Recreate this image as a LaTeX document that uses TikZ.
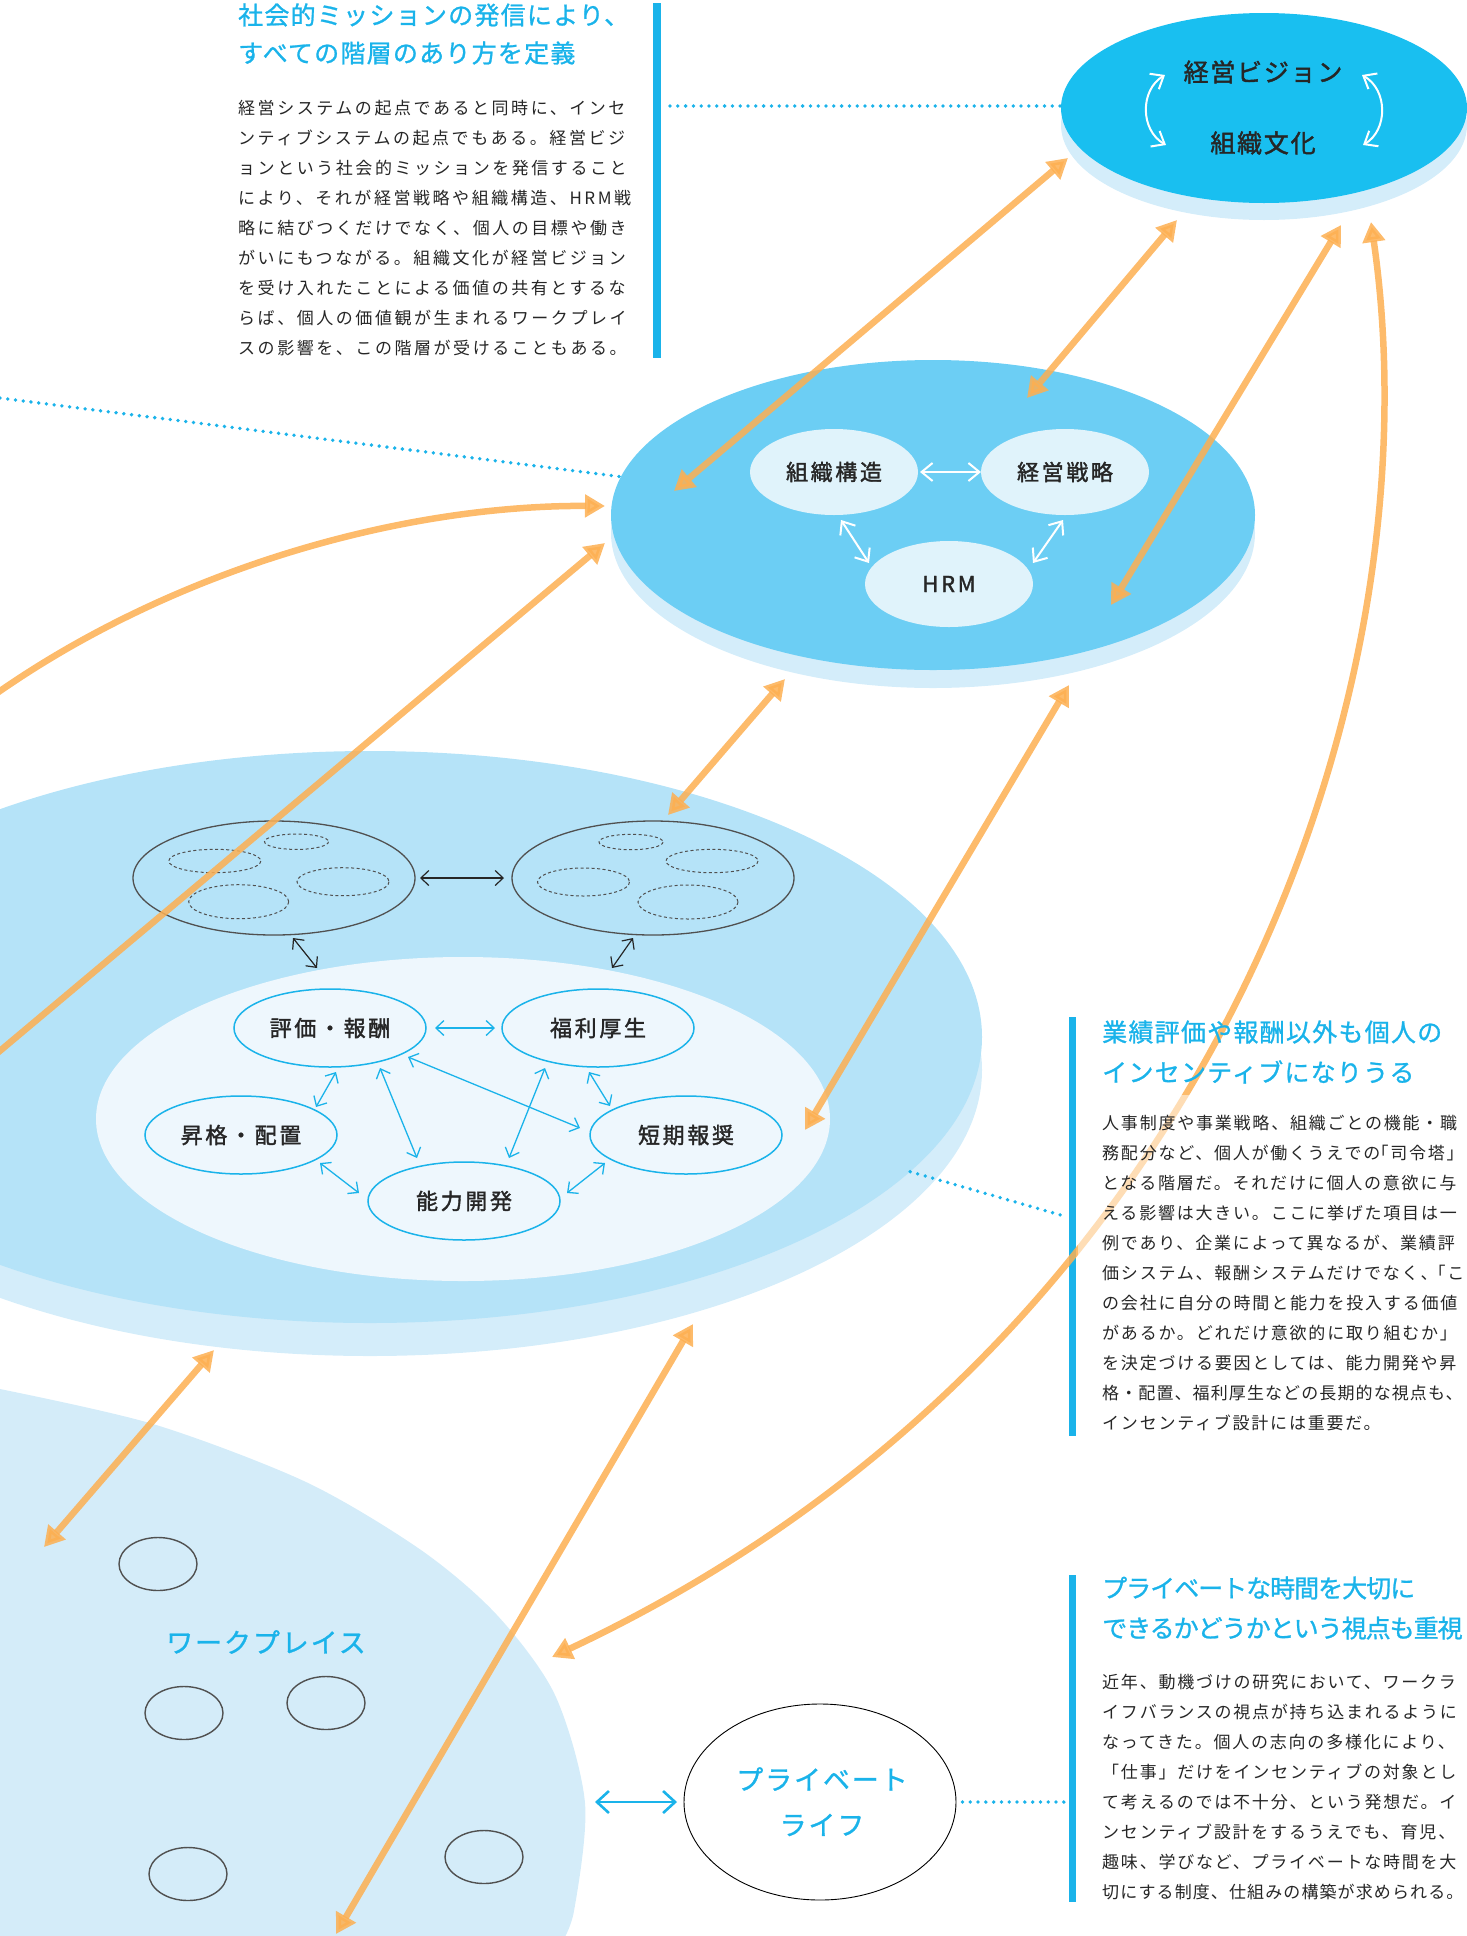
\documentclass[tikz,border=0pt]{standalone}
\usepackage{fontspec}
\setmainfont{Noto Sans CJK JP}
\newfontfamily\medfont[FakeBold=1.0]{Noto Sans CJK JP}
\newfontfamily\lblfamily[FakeBold=1.6]{Noto Sans CJK JP}
\usetikzlibrary{arrows.meta,shapes.geometric}
\definecolor{visCyan}{HTML}{19BFF0}
\definecolor{midBlue}{HTML}{6CCEF4}
\definecolor{lvlBlue}{HTML}{B5E3F8}
\definecolor{innerPale}{HTML}{EEF7FD}
\definecolor{shadowBlue}{HTML}{D4EDFA}
\definecolor{wpBlue}{HTML}{D4ECF9}
\definecolor{nodePale}{HTML}{E0F3FB}
\definecolor{lineCyan}{HTML}{1AB3EA}
\definecolor{orng}{HTML}{FDAF51}
\definecolor{txt}{HTML}{262626}
\definecolor{grayline}{HTML}{505050}
\newcommand\lblfont{\lblfamily\fontsize{22pt}{26pt}\selectfont\addfontfeatures{LetterSpace=12}}
\newcommand\visfont{\lblfamily\fontsize{25pt}{28pt}\selectfont\addfontfeatures{LetterSpace=7}}
\newcommand\wpfont{\medfont\fontsize{27pt}{30pt}\selectfont\addfontfeatures{LetterSpace=7}}
\newcommand\titlefont{\medfont\fontsize{25pt}{28pt}\selectfont\addfontfeatures{LetterSpace=5}}
\newcommand\titlefontB{\medfont\fontsize{25pt}{28pt}\selectfont\addfontfeatures{LetterSpace=-4}}
\newcommand\bodyfontA{\fontsize{17pt}{20pt}\selectfont\addfontfeatures{LetterSpace=15}}
\newcommand\bodyfontB{\fontsize{17pt}{20pt}\selectfont\addfontfeatures{LetterSpace=10.5}}
\newcommand\tightline{\addfontfeatures{LetterSpace=6.5}}
\tikzset{
  disc/.style={ellipse, inner sep=0pt},
  orarrow/.style={draw=orng, opacity=0.85, line width=6.5pt,
    {Triangle[length=20pt,width=22pt]}-{Triangle[length=20pt,width=22pt]}},
  orarrowone/.style={draw=orng, opacity=0.85, line width=6.5pt,
    -{Triangle[length=20pt,width=22pt]}},
  cyarrow/.style={draw=lineCyan, line width=1.3pt,
    {Straight Barb[length=8pt,width=15pt]}-{Straight Barb[length=8pt,width=15pt]}},
  blkarrow/.style={draw=txt, line width=1.2pt,
    {Straight Barb[length=8pt,width=15pt]}-{Straight Barb[length=8pt,width=15pt]}},
  wharrow/.style={draw=white, line width=2pt,
    {Straight Barb[length=11pt,width=18pt]}-{Straight Barb[length=11pt,width=18pt]}},
  dotline/.style={draw=lineCyan, line width=3.8pt, line cap=round, dash pattern=on 0pt off 7.8pt},
  dashell/.style={draw=grayline, line width=1pt, dash pattern=on 3pt off 2.5pt},
  lvlthreenode/.style={disc, draw=lineCyan, line width=1.5pt, minimum width=192, minimum height=78, font=\lblfont, text=txt},
  midnode/.style={disc, fill=nodePale, minimum width=168, minimum height=86, font=\lblfont, text=txt},
  wpcircle/.style={disc, draw=grayline, line width=1.4pt, minimum width=78, minimum height=53},
  bodyA/.style={anchor=west, inner sep=0pt, text=txt, font=\bodyfontA},
  bodyB/.style={anchor=west, inner sep=0pt, text=txt, font=\bodyfontB},
  ttl/.style={anchor=west, inner sep=0pt, text=lineCyan, font=\titlefont},
  ttlB/.style={anchor=west, inner sep=0pt, text=lineCyan, font=\titlefontB},
  bar/.style={fill=lineCyan, inner sep=0pt, anchor=north west}
}
\begin{document}
\begin{tikzpicture}[x=1pt,y=-1pt]
\useasboundingbox (0,0) rectangle (1467,1936);
\clip (0,0) rectangle (1467,1936);

% workplace area
\fill[wpBlue] plot[smooth] coordinates {(-5,1388) (153,1424) (306,1482) (421,1550) (497,1615) (555,1695) (585,1803) (574,1911) (560,1945)} -- (-5,1945) -- cycle;

% level 3 disc
\node[disc, fill=shadowBlue, minimum width=1224, minimum height=572] (lvlthreeshadow) at (370,1070) {};
\node[disc, fill=lvlBlue, minimum width=1224, minimum height=572] (lvlthree) at (370,1037) {};
\node[disc, fill=innerPale, minimum width=734, minimum height=324] (lvlthreein) at (463,1119) {};

% level 2 disc
\node[disc, fill=shadowBlue, minimum width=644, minimum height=310] (midshadow) at (933,533) {};
\node[disc, fill=midBlue, minimum width=644, minimum height=310] (mid) at (933,515) {};

% top disc
\node[disc, fill=shadowBlue, minimum width=406, minimum height=190] (topshadow) at (1264,125) {};
\node[disc, fill=visCyan, minimum width=406, minimum height=190] (top) at (1264,108) {};

% top contents
\node[font=\visfont, text=txt] (vision) at (1263,72) {経営ビジョン};
\node[font=\visfont, text=txt] (culture) at (1263,143) {組織文化};
\coordinate (wla) at (1165,75); \coordinate (wlb) at (1166,145);
\coordinate (wra) at (1362,75); \coordinate (wrb) at (1363,145);
\draw[wharrow] (wla) .. controls (1140,90) and (1140,130) .. (wlb);
\draw[wharrow] (wra) .. controls (1388,90) and (1388,130) .. (wrb);

% middle contents
\node[midnode] (soshiki) at (834,472) {組織構造};
\node[midnode] (senryaku) at (1065,472) {経営戦略};
\node[midnode] (hrm) at (949,584) {HRM};
\coordinate (m1a) at (920,472); \coordinate (m1b) at (981,472);
\coordinate (m2a) at (841,520); \coordinate (m2b) at (869,563);
\coordinate (m3a) at (1063,520); \coordinate (m3b) at (1033,563);
\draw[wharrow] (m1a) -- (m1b);
\draw[wharrow] (m2a) -- (m2b);
\draw[wharrow] (m3a) -- (m3b);

% level 3 contents: groups
\node[disc, draw=grayline, line width=1.3pt, minimum width=282, minimum height=114] (grpl) at (274,878) {};
\node[disc, draw=grayline, line width=1.3pt, minimum width=282, minimum height=114] (grpr) at (653,878) {};
\draw[dashell] (296.5,841.7) ellipse [x radius=32, y radius=7.7];
\draw[dashell] (214.8,861) ellipse [x radius=46, y radius=11.7];
\draw[dashell] (343,881.7) ellipse [x radius=46, y radius=14];
\draw[dashell] (238.7,901.7) ellipse [x radius=50, y radius=17];
\draw[dashell] (631,842) ellipse [x radius=32, y radius=7.7];
\draw[dashell] (712,861) ellipse [x radius=46, y radius=11.7];
\draw[dashell] (583.5,882) ellipse [x radius=46, y radius=14];
\draw[dashell] (688,902) ellipse [x radius=50, y radius=17];
\coordinate (g1a) at (420,878); \coordinate (g1b) at (504,878);
\coordinate (g2a) at (293,938); \coordinate (g2b) at (317,968);
\coordinate (g3a) at (633,938); \coordinate (g3b) at (612,968);
\draw[blkarrow] (g1a) -- (g1b);
\draw[blkarrow] (g2a) -- (g2b);
\draw[blkarrow] (g3a) -- (g3b);

% level 3 nodes
\node[lvlthreenode] (hyoka) at (330,1028) {評価・報酬};
\node[lvlthreenode] (fukuri) at (598,1028) {福利厚生};
\node[lvlthreenode] (shokaku) at (241,1135) {昇格・配置};
\node[lvlthreenode] (tanki) at (686,1135) {短期報奨};
\node[lvlthreenode] (noryoku) at (464,1201) {能力開発};
\coordinate (c1a) at (435,1028); \coordinate (c1b) at (495,1028);
\coordinate (c2a) at (336,1072); \coordinate (c2b) at (316,1107);
\coordinate (c3a) at (380,1068); \coordinate (c3b) at (417,1158);
\coordinate (c4a) at (408,1057); \coordinate (c4b) at (580,1128);
\coordinate (c5a) at (545,1068); \coordinate (c5b) at (509,1158);
\coordinate (c6a) at (589,1072); \coordinate (c6b) at (610,1106);
\coordinate (c7a) at (320,1163); \coordinate (c7b) at (359,1193);
\coordinate (c8a) at (605,1163); \coordinate (c8b) at (567,1193);
\draw[cyarrow] (c1a) -- (c1b);
\draw[cyarrow] (c2a) -- (c2b);
\draw[cyarrow] (c3a) -- (c3b);
\draw[cyarrow] (c4a) -- (c4b);
\draw[cyarrow] (c5a) -- (c5b);
\draw[cyarrow] (c6a) -- (c6b);
\draw[cyarrow] (c7a) -- (c7b);
\draw[cyarrow] (c8a) -- (c8b);

% workplace
\node[wpcircle] (wpa) at (158,1564) {};
\node[wpcircle] (wpb) at (184,1713) {};
\node[wpcircle] (wpc) at (326,1703) {};
\node[wpcircle] (wpd) at (188,1874) {};
\node[wpcircle] (wpe) at (484,1857) {};
\node[font=\wpfont, text=lineCyan] (wplabel) at (266,1642) {ワークプレイス};

% private life
\node[disc, draw=black, line width=0.9pt, fill=white, minimum width=272, minimum height=196] (private) at (820,1802) {};
\node[font=\wpfont, text=lineCyan] (privA) at (822,1779) {プライベート};
\node[font=\wpfont, text=lineCyan] (privB) at (822,1825) {ライフ};
\coordinate (pa) at (595,1802); \coordinate (pb) at (677,1802);
\draw[draw=lineCyan, line width=2.6pt, {Straight Barb[length=12pt,width=22pt]}-{Straight Barb[length=12pt,width=22pt]}] (pa) -- (pb);

% bars
\node[bar, minimum width=8, minimum height=355] (barA) at (653,3) {};
\node[bar, minimum width=7, minimum height=419] (barB) at (1069,1017) {};
\node[bar, minimum width=7, minimum height=327] (barC) at (1069,1575) {};

% dotted leaders
\coordinate (dA) at (670,106);
\draw[dotline] (dA) -- (top.west |- dA);
\coordinate (dB) at (0,398);
\draw[dotline] (dB) -- (mid.173);
\coordinate (dC) at (1064,1216);
\draw[dotline] (lvlthree.-14) -- (dC);
\coordinate (dD) at (1064,1802);
\draw[dotline] (private.east) ++(6,0) -- (dD);

% orange arrows
\coordinate (o1a) at (1068,158); \coordinate (o1b) at (674,491);
\coordinate (o2a) at (1177,220); \coordinate (o2b) at (1027,398);
\coordinate (o3a) at (1341,225); \coordinate (o3b) at (1111,605);
\coordinate (o4a) at (1371,222); \coordinate (o4b) at (552,1657);
\coordinate (o5a) at (785,679); \coordinate (o5b) at (668,815);
\coordinate (o6a) at (1069,685); \coordinate (o6b) at (805,1130);
\coordinate (o7a) at (-30,1076); \coordinate (o7b) at (605,543);
\coordinate (o8a) at (-10,698); \coordinate (o8b) at (605,506);
\coordinate (o9a) at (214,1350); \coordinate (o9b) at (44,1547);
\coordinate (o10a) at (693,1324); \coordinate (o10b) at (336,1934);
\draw[orarrow] (o1a) -- (o1b);
\draw[orarrow] (o2a) -- (o2b);
\draw[orarrow] (o3a) -- (o3b);
\draw[orarrow] (o4a) .. controls (1440,700) and (1206,1350) .. (o4b);
\draw[orarrow] (o5a) -- (o5b);
\draw[orarrow] (o6a) -- (o6b);
\draw[orarrowone] (o7a) -- (o7b);
\draw[orarrowone] (o8a) .. controls (170,570) and (400,505) .. (o8b);
\draw[orarrow] (o9a) -- (o9b);
\draw[orarrow] (o10a) -- (o10b);

% veil behind text block 2
\fill[white, opacity=0.5] (1078,1095) rectangle (1467,1440);

% text block 1
\node[ttl] (tA1) at (238,15) {社会的ミッションの発信により、};
\node[ttl] (tA2) at (238,53) {すべての階層のあり方を定義};
\foreach \t [count=\i] in {経営システムの起点であると同時に、インセ,ンティブシステムの起点でもある。経営ビジ,ョンという社会的ミッションを発信すること,により、それが経営戦略や組織構造、HRM戦,略に結びつくだけでなく、個人の目標や働き,がいにもつながる。組織文化が経営ビジョン,を受け入れたことによる価値の共有とするな,らば、個人の価値観が生まれるワークプレイ,スの影響を、この階層が受けることもある。}
  \node[bodyA] (bA\i) at (238,{108+30*(\i-1)}) {\t};

% text block 2
\node[ttl] (tB1) at (1102,1032) {業績評価や報酬以外も個人の};
\node[ttl] (tB2) at (1102,1072) {インセンティブになりうる};
\foreach \t [count=\i] in {人事制度や事業戦略、組織ごとの機能・職,務配分など、個人が働くうえでの\kern-9pt「司令塔」\kern-8pt,となる階層だ。それだけに個人の意欲に与,える影響は大きい。ここに挙げた項目は一,例であり、企業によって異なるが、業績評,価システム、報酬システムだけでなく、\kern-9pt「こ,の会社に自分の時間と能力を投入する価値,があるか。どれだけ意欲的に取り組むか」,を決定づける要因としては、能力開発や昇,\tightline 格・配置、福利厚生などの長期的な視点も、\kern-7pt,インセンティブ設計には重要だ。}
  \node[bodyB] (bB\i) at (1102,{1123+30*(\i-1)}) {\t};

% text block 3
\node[ttlB] (tC1) at (1102,1588) {プライベートな時間を大切に};
\node[ttlB] (tC2) at (1102,1628) {できるかどうかという視点も重視};
\foreach \t [count=\i] in {近年、動機づけの研究において、ワークラ,イフバランスの視点が持ち込まれるように,なってきた。個人の志向の多様化により、,「仕事」だけをインセンティブの対象とし,て考えるのでは不十分、という発想だ。イ,ンセンティブ設計をするうえでも、育児、,趣味、学びなど、プライベートな時間を大,\tightline 切にする制度、仕組みの構築が求められる。\kern-7pt}
  \node[bodyB] (bC\i) at (1102,{1682+30*(\i-1)}) {\t};
\end{tikzpicture}
\end{document}
